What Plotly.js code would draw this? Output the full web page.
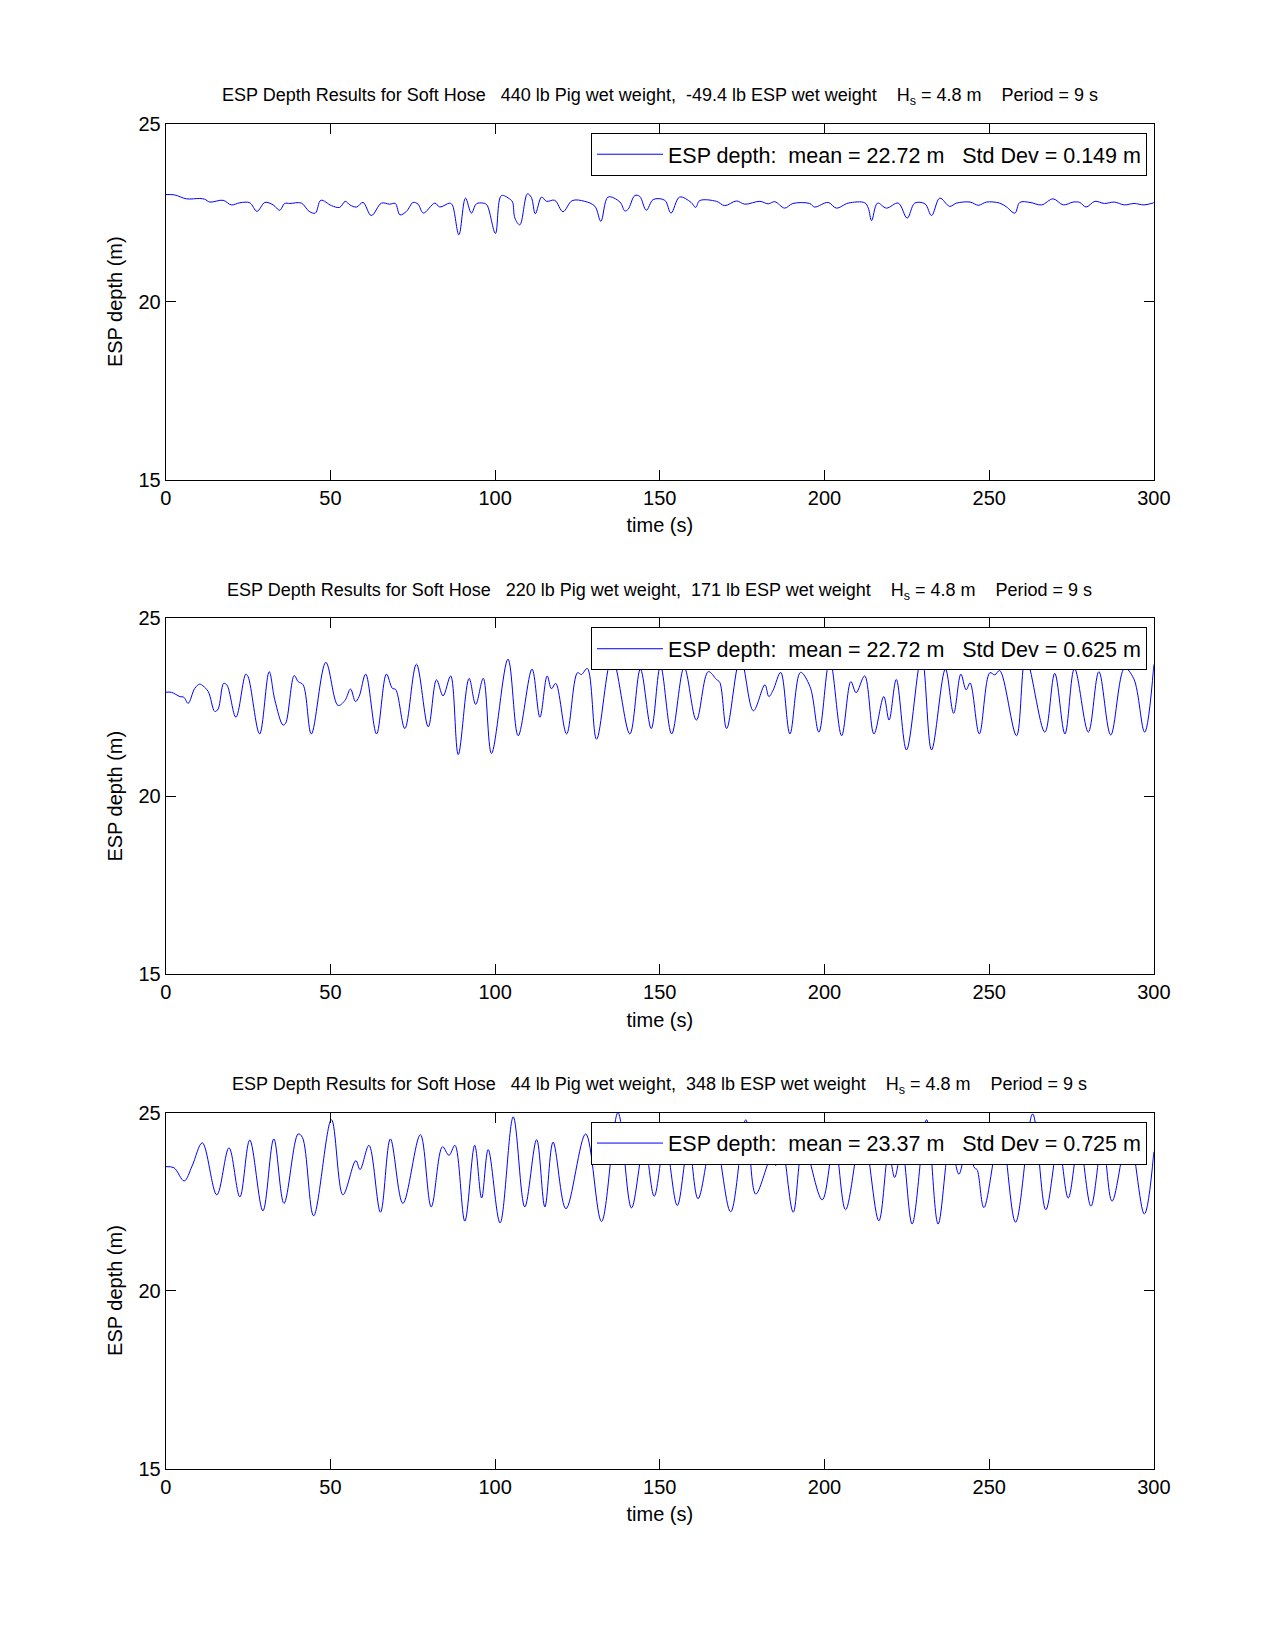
<!DOCTYPE html>
<html>
<head>
<meta charset="utf-8">
<script src="https://cdn.plot.ly/plotly-3.0.1.min.js"></script>
<style>
  html, body { margin: 0; padding: 0; background: #ffffff; }
  #chart { width: 1275px; height: 1650px; }
</style>
</head>
<body>
<div id="chart"></div>
<script>
// ---------- data ----------
const xTickVals = [0, 50, 100, 150, 200, 250, 300];
const yTickVals = [15, 20, 25];

const titles = [
  "ESP Depth Results for Soft Hose \u00a0 440 lb Pig wet weight, \u00a0-49.4 lb ESP wet weight \u00a0 \u00a0H<sub>s</sub> = 4.8 m \u00a0 \u00a0Period = 9 s",
  "ESP Depth Results for Soft Hose \u00a0 220 lb Pig wet weight, \u00a0171 lb ESP wet weight \u00a0 \u00a0H<sub>s</sub> = 4.8 m \u00a0 \u00a0Period = 9 s",
  "ESP Depth Results for Soft Hose \u00a0 44 lb Pig wet weight, \u00a0348 lb ESP wet weight \u00a0 \u00a0H<sub>s</sub> = 4.8 m \u00a0 \u00a0Period = 9 s"
];
const legendLabels = [
  "ESP depth: \u00a0mean = 22.72 m \u00a0 Std Dev = 0.149 m",
  "ESP depth: \u00a0mean = 22.72 m \u00a0 Std Dev = 0.625 m",
  "ESP depth: \u00a0mean = 23.37 m \u00a0 Std Dev = 0.725 m"
];
const xLabel = "time (s)";
const yLabel = "ESP depth (m)";

const t1 = [0,2.7,6.3,10.3,11.8,13.4,17.4,19.9,22.5,25.5,27.7,30.1,32.6,34.6,36.1,37.7,41.2,43.5,45.4,47.1,50.3,52.8,54.5,55.9,57.9,59.9,62.4,65.5,68.0,69.7,71.1,73.1,75.1,76.6,78.2,81.7,83.2,86.2,87.0,89.0,91.0,92.8,94.3,96.4,97.5,100.1,101.9,104.5,105.3,106.0,107.5,109.8,111.0,112.2,114.1,115.6,118.1,120.6,123.4,127.2,130.3,132.1,134.3,137.9,139.4,140.4,142.4,143.9,145.9,148.0,151.5,153.4,156.0,159.5,160.9,162.1,167.2,169.7,173.3,175.8,180.4,182.9,184.9,187.9,190.4,195.5,197.0,201.1,203.6,207.2,212.2,213.3,214.3,216.1,218.8,222.4,225.1,227.4,230.5,232.5,235.0,238.0,240.1,244.2,246.7,249.2,253.2,255.3,257.8,259.3,262.4,265.9,269.4,272.5,275.5,277.5,279.4,282.1,285,288,291,294,297,300];
const d1 = [23.01,23.0,22.89,22.90,22.88,22.80,22.85,22.72,22.78,22.78,22.54,22.79,22.72,22.57,22.76,22.76,22.77,22.54,22.49,22.85,22.70,22.65,22.82,22.72,22.66,22.79,22.42,22.77,22.74,22.76,22.44,22.54,22.79,22.74,22.49,22.77,22.66,22.77,22.72,21.88,22.91,22.49,22.75,22.77,22.72,21.92,22.98,22.88,22.80,22.35,22.16,23.03,22.93,22.47,22.94,22.82,22.85,22.53,22.84,22.82,22.68,22.26,22.94,22.80,22.55,22.60,22.98,22.96,22.57,22.87,22.85,22.49,22.94,22.79,22.65,22.84,22.82,22.70,22.83,22.74,22.82,22.75,22.81,22.63,22.76,22.76,22.66,22.79,22.63,22.77,22.78,22.63,22.28,22.77,22.63,22.77,22.35,22.77,22.75,22.42,22.91,22.68,22.77,22.80,22.71,22.80,22.77,22.66,22.49,22.79,22.79,22.72,22.89,22.72,22.80,22.79,22.66,22.82,22.76,22.80,22.72,22.76,22.72,22.78];

const t2 = [0,1.7,4.3,5.5,6.8,8.8,10.3,11.3,12.9,14.9,15.9,17.6,18.6,21.3,24.3,25.0,28.5,31.4,33.1,35.6,36.4,39.0,40.2,41.7,44.2,48.6,52.3,54.4,56.1,57.6,58.7,60.7,64.0,67.0,68.8,69.8,72.6,76.1,79.7,82.2,84.2,86.5,88.8,92.1,94.1,96.4,98.9,103.9,107.0,111.2,113.6,115.8,117.1,118.4,121.7,125.0,126.2,128.0,130.8,135.5,140.9,144.1,147.4,150.2,153.6,157.4,161.1,164.7,167.2,168.2,170.3,174.5,178.4,181.9,183.1,184.4,186.7,189.5,192.7,195.6,198.3,201.6,205.2,208.0,209.6,212.2,215.0,218.0,219.6,221.8,224.9,229.5,232.5,236.7,239.2,241.4,243.0,244.2,247.0,250.2,251.7,253.2,258.3,261.1,266.9,269.9,273.0,275.9,280.1,283.3,286.9,291.1,293.9,297.2,300];
const d2 = [22.92,22.92,22.80,22.78,22.61,23.03,23.15,23.10,22.94,22.38,22.45,23.17,23.12,22.22,23.43,23.36,21.75,23.50,22.71,22.00,22.05,23.39,23.22,23.13,21.75,23.76,22.55,22.69,23.01,22.66,22.80,23.43,21.75,23.43,23.03,23.00,21.90,23.71,21.95,23.27,22.82,23.38,21.17,23.31,22.58,23.31,21.20,23.85,21.70,23.57,22.22,23.38,23.02,23.17,21.75,23.47,23.42,23.59,21.60,23.90,21.75,23.57,21.90,23.66,21.75,23.62,22.14,23.50,23.28,23.20,21.90,23.90,22.40,23.13,22.80,22.98,23.48,21.75,23.48,23.08,21.80,23.85,21.70,23.22,22.91,23.38,21.75,22.80,22.14,23.28,21.30,23.95,21.30,23.57,22.33,23.43,22.99,23.18,21.75,23.47,23.41,23.53,21.70,23.90,21.80,23.45,21.75,23.59,21.80,23.50,21.72,23.60,23.30,21.80,23.70];

const t3 = [0,2.5,5.6,8,11.1,15.5,19.2,22.5,25.5,29.5,32.8,35.9,40.2,41.5,44.9,50.3,53.8,57.7,59.0,61.7,65.2,68.2,72.0,77.3,80.6,84.0,86.0,87.8,90.8,93.8,95.9,97.9,101.5,105.5,109.0,112.6,115.1,117.6,121.5,127.5,132.3,137.3,141.4,145.3,148.3,151.6,155.3,158.7,161.6,166.4,171.5,176.1,179.1,183.4,184.3,185.2,187.0,190.5,193.6,199.3,203.0,206.4,211.5,216.5,219.5,221.3,223.5,226.6,231.0,234.5,238.2,240.8,243.2,245.6,246.3,248.4,253.5,258.0,263.2,267.2,271.0,274.0,277.3,280.9,284.4,287.3,292.3,297.1,300];
const d3 = [23.48,23.45,23.08,23.5,24.15,22.69,24.01,22.63,24.23,22.24,24.26,22.45,24.40,24.30,22.10,24.80,22.69,23.65,23.40,24.08,22.20,24.26,22.45,24.38,22.35,24.04,23.80,24.08,21.95,24.08,22.60,23.96,21.90,24.88,22.35,24.24,22.35,24.17,22.30,24.40,21.94,25.00,22.32,24.10,22.65,24.20,22.39,24.10,22.58,24.40,22.21,24.80,22.71,23.68,23.75,23.51,24.10,22.20,24.10,22.55,24.20,22.27,24.50,21.96,23.90,23.18,24.00,21.87,24.80,21.87,24.20,23.27,24.00,23.44,23.40,22.33,24.50,21.92,24.96,22.27,24.10,22.60,24.20,22.37,24.20,22.51,24.40,22.15,23.90];

const series = [[t1, d1], [t2, d2], [t3, d3]];

// ---------- layout ----------
const FONT = "'Liberation Sans', Arial, Helvetica, sans-serif";
const yDomains = [[0.7093, 0.925], [0.4096, 0.6253], [0.11, 0.3257]];
const xDomain = [0.13, 0.905];

const traces = [];
const layout = {
  width: 1275, height: 1650,
  margin: {l: 0, r: 0, t: 0, b: 0},
  paper_bgcolor: '#ffffff',
  plot_bgcolor: '#ffffff',
  font: {family: FONT, color: '#000000', size: 20},
  showlegend: true,
  annotations: []
};

series.forEach(function (s, i) {
  const n = i === 0 ? '' : String(i + 1);
  const legName = 'legend' + n;
  traces.push({
    x: s[0], y: s[1],
    type: 'scatter', mode: 'lines',
    line: {color: '#0000ff', width: 1, shape: 'spline', smoothing: 1},
    name: legendLabels[i],
    xaxis: 'x' + n, yaxis: 'y' + n,
    legend: legName,
    showlegend: true,
    hoverinfo: 'skip'
  });
  const axCommon = {
    showline: true, linecolor: '#000000', linewidth: 1, mirror: 'ticks',
    ticks: 'inside', ticklen: 10, tickwidth: 1, tickcolor: '#000000',
    showgrid: false, zeroline: false,
    tickfont: {family: FONT, size: 20, color: '#000000'}
  };
  layout['xaxis' + n] = Object.assign({}, axCommon, {
    domain: xDomain, anchor: 'y' + n, range: [0, 300],
    tickmode: 'array', tickvals: xTickVals, ticktext: xTickVals.map(String),
    title: {text: xLabel, font: {family: FONT, size: 20}, standoff: 10}
  });
  layout['yaxis' + n] = Object.assign({}, axCommon, {
    domain: yDomains[i], anchor: 'x' + n, range: [15, 25],
    tickmode: 'array', tickvals: yTickVals, ticktext: yTickVals.map(String),
    title: {text: yLabel, font: {family: FONT, size: 20}, standoff: 10}
  });
  const top = yDomains[i][1];
  layout[legName] = {
    x: 1147 / 1275, xanchor: 'right',
    y: top - 9 / 1650, yanchor: 'top',
    bgcolor: '#ffffff', bordercolor: '#000000', borderwidth: 1,
    font: {family: FONT, size: 21.5, color: '#000000'},
    itemwidth: 66, tracegroupgap: 0
  };
  layout.annotations.push({
    text: titles[i], xref: 'paper', yref: 'paper',
    x: (xDomain[0] + xDomain[1]) / 2, y: top,
    xanchor: 'center', yanchor: 'middle', yshift: 27,
    showarrow: false, font: {family: FONT, size: 18, color: '#000000'}
  });
});

Plotly.newPlot('chart', traces, layout, {displayModeBar: false, responsive: false});
</script>
</body>
</html>
